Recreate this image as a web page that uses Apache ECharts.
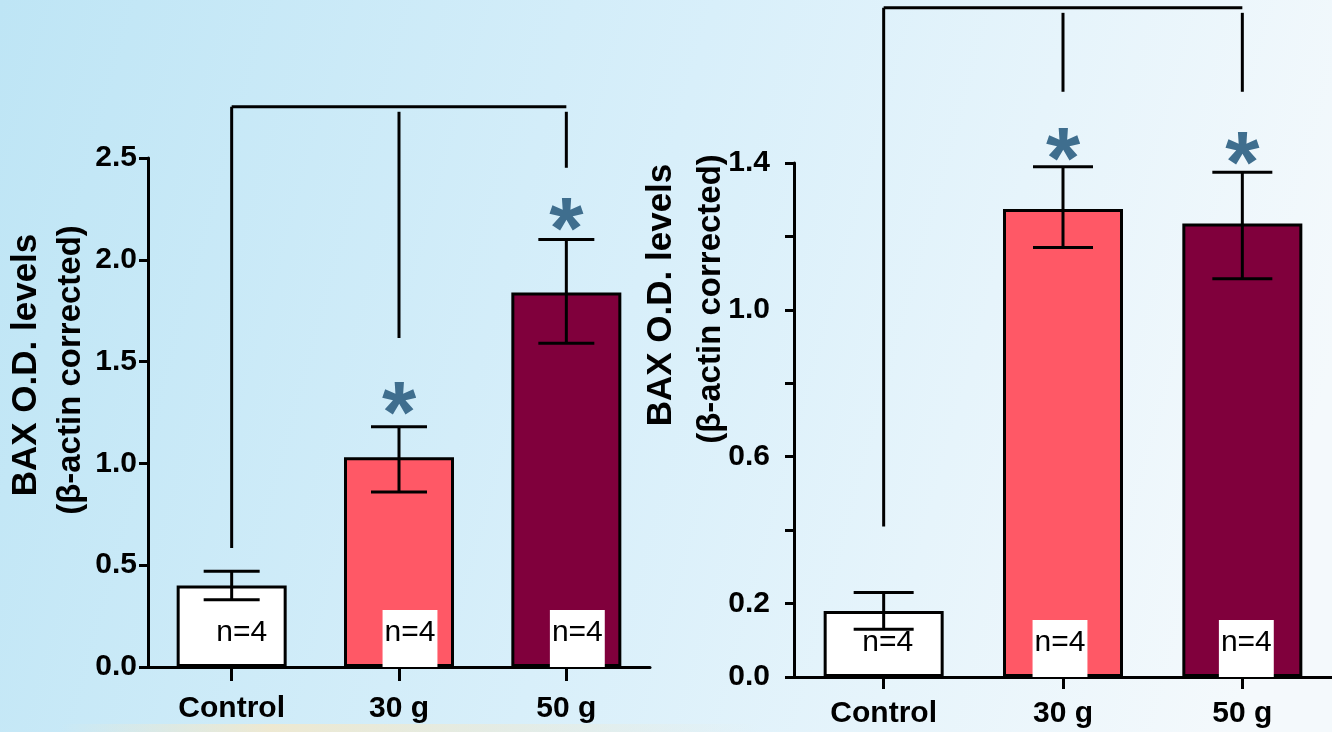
<!DOCTYPE html>
<html>
<head>
<meta charset="utf-8">
<script src="https://cdn.jsdelivr.net/npm/echarts@6/dist/echarts.min.js"></script>
<style>
html,body{margin:0;padding:0;}
#chart{width:1332px;height:732px;}
</style>
</head>
<body>
<div id="chart"></div>
<script>
// ---- data ----
const categories = ['Control', '30 g', '50 g'];
const leftMeans = [0.40, 1.03, 1.84];
const leftErrLow = [0.33, 0.86, 1.59];
const leftErrHigh = [0.47, 1.18, 2.10];
const rightMeans = [0.18, 1.275, 1.235];
const rightErrLow = [0.13, 1.17, 1.085];
const rightErrHigh = [0.23, 1.39, 1.375];
const leftTickLabels = ['0.0', '0.5', '1.0', '1.5', '2.0', '2.5'];
const rightTickLabels = ['0.0', '0.2', '0.6', '1.0', '1.4'];
const nLabels = ['n=4', 'n=4', 'n=4'];
const leftStars = [[1, 1.32], [2, 2.22]];
const rightStars = [[1, 1.45], [2, 1.44]];
const leftBracket = [[0, 2.752, 2, 2.752], [0, 2.752, 0, 0.584], [1, 2.727, 1, 1.616], [2, 2.727, 2, 2.452]];
const rightBracket = [[0, 1.823, 2, 1.823], [0, 1.823, 0, 0.41], [1, 1.809, 1, 1.594], [2, 1.809, 2, 1.594]];
const yTitleLine1 = 'BAX O.D. levels';
const yTitleLine2 = '(β-actin corrected)';

// ---- styles ----
const FONT = "'Liberation Sans', Arial, sans-serif";
const barColors = ['#ffffff', '#ff5866', '#80003c'];
const starColor = '#3f6e8e';
const leftLabelShift = [[10, 0], [11, 0], [11, 0]];
const rightLabelShift = [[4, 0], [-3, 0], [4, 0]];

function barData(vals, shifts) {
  return vals.map((v, i) => ({
    value: v,
    itemStyle: { color: barColors[i] },
    label: { offset: shifts[i], backgroundColor: i === 0 ? 'transparent' : '#ffffff' }
  }));
}

function errRender(half) {
  return function (params, api) {
    const i = api.value(0);
    const lo = api.coord([i, api.value(1)]);
    const hi = api.coord([i, api.value(2)]);
    const st = { stroke: '#000', lineWidth: 3 };
    return {
      type: 'group', children: [
        { type: 'line', shape: { x1: hi[0], y1: hi[1], x2: lo[0], y2: lo[1] }, style: st },
        { type: 'line', shape: { x1: hi[0] - half, y1: hi[1], x2: hi[0] + half, y2: hi[1] }, style: st },
        { type: 'line', shape: { x1: lo[0] - half, y1: lo[1], x2: lo[0] + half, y2: lo[1] }, style: st }
      ]
    };
  };
}
function bracketRender(params, api) {
  const a = api.coord([api.value(0), api.value(1)]);
  const b = api.coord([api.value(2), api.value(3)]);
  return { type: 'line', shape: { x1: a[0], y1: a[1], x2: b[0], y2: b[1] }, style: { stroke: '#000', lineWidth: 3 } };
}
function starRender(params, api) {
  const p = api.coord([api.value(0), api.value(1)]);
  return {
    type: 'text', x: p[0], y: p[1] + 19,
    style: { text: '*', font: 'bold 88px ' + FONT, fill: starColor, align: 'center', verticalAlign: 'middle' }
  };
}

function yAxis(grid, max, interval, labels, margin) {
  return {
    gridIndex: grid, type: 'value', min: 0, max: max, interval: interval,
    axisLine: { show: true, lineStyle: { color: '#000', width: 3 } },
    axisTick: { show: true, length: 9, lineStyle: { color: '#000', width: 3 } },
    splitLine: { show: false },
    axisLabel: {
      margin: margin, color: '#000', fontSize: 30, fontWeight: 'bold', fontFamily: FONT,
      formatter: v => { const s = v.toFixed(1); return labels.includes(s) ? s : ''; }
    }
  };
}
function xAxis(grid, tickLen, margin) {
  return {
    gridIndex: grid, type: 'category', data: categories,
    axisLine: { show: true, lineStyle: { color: '#000', width: 3 } },
    axisTick: { show: true, alignWithLabel: true, length: tickLen, lineStyle: { color: '#000', width: 3 } },
    axisLabel: { margin: margin, color: '#000', fontSize: 30, fontWeight: 'bold', fontFamily: FONT }
  };
}
function barSeries(idx, vals, width, shifts) {
  return {
    type: 'bar', xAxisIndex: idx, yAxisIndex: idx, barWidth: width, z: 2,
    data: barData(vals, shifts),
    itemStyle: { borderColor: '#000', borderWidth: 3 },
    label: {
      show: true, position: 'insideBottom', distance: 0,
      formatter: p => nLabels[p.dataIndex],
      color: '#000', fontSize: 30, fontFamily: FONT, lineHeight: 30,
      padding: [8, 2, 19, 2]
    }
  };
}
function titleText(text, x, y, size) {
  return {
    type: 'text', x: x, y: y, rotation: Math.PI / 2,
    style: { text: text, font: 'bold ' + size + 'px ' + FONT, fill: '#000', align: 'center', verticalAlign: 'middle' }
  };
}

const chart = echarts.init(document.getElementById('chart'), null, { renderer: 'canvas' });
chart.setOption({
  animation: false,
  backgroundColor: {
    type: 'linear', x: 0, y: 0, x2: 1, y2: 0.5,
    colorStops: [{ offset: 0, color: '#bee5f5' }, { offset: 0.5, color: '#d8effa' }, { offset: 1, color: '#f4f9fc' }]
  },
  graphic: [
    {
      type: 'rect', left: 60, top: 724, shape: { width: 700, height: 8 }, silent: true, z: -1,
      style: {
        fill: {
          type: 'linear', x: 0, y: 0, x2: 1, y2: 0,
          colorStops: [{ offset: 0, color: 'rgba(245,232,200,0)' }, { offset: 0.3, color: 'rgba(245,232,200,0.8)' }, { offset: 1, color: 'rgba(245,232,200,0)' }]
        }
      }
    },
    titleText(yTitleLine1, 26, 365, 35),
    titleText(yTitleLine2, 71, 370, 33),
    titleText(yTitleLine1, 661, 295, 35),
    titleText(yTitleLine2, 711, 299, 33)
  ],
  grid: [
    { left: 148, top: 158, width: 502, height: 509 },
    { left: 794, top: 163, width: 555, height: 514 }
  ],
  xAxis: [xAxis(0, 14, 27), xAxis(1, 12, 22)],
  yAxis: [yAxis(0, 2.5, 0.5, leftTickLabels, 11), yAxis(1, 1.4, 0.2, rightTickLabels, 24)],
  series: [
    barSeries(0, leftMeans, 110, leftLabelShift),
    barSeries(1, rightMeans, 120, rightLabelShift),
    {
      type: 'custom', xAxisIndex: 0, yAxisIndex: 0, z: 4, renderItem: errRender(28),
      encode: { x: 0, y: [1, 2] },
      data: categories.map((c, i) => [i, leftErrLow[i], leftErrHigh[i]])
    },
    {
      type: 'custom', xAxisIndex: 1, yAxisIndex: 1, z: 4, renderItem: errRender(30),
      encode: { x: 0, y: [1, 2] },
      data: categories.map((c, i) => [i, rightErrLow[i], rightErrHigh[i]])
    },
    { type: 'custom', xAxisIndex: 0, yAxisIndex: 0, z: 4, renderItem: bracketRender, encode: { x: [0, 2], y: [1, 3] }, data: leftBracket },
    { type: 'custom', xAxisIndex: 1, yAxisIndex: 1, z: 4, renderItem: bracketRender, encode: { x: [0, 2], y: [1, 3] }, data: rightBracket },
    { type: 'custom', xAxisIndex: 0, yAxisIndex: 0, z: 4, renderItem: starRender, encode: { x: 0, y: 1 }, data: leftStars },
    { type: 'custom', xAxisIndex: 1, yAxisIndex: 1, z: 4, renderItem: starRender, encode: { x: 0, y: 1 }, data: rightStars }
  ]
});
</script>
</body>
</html>
